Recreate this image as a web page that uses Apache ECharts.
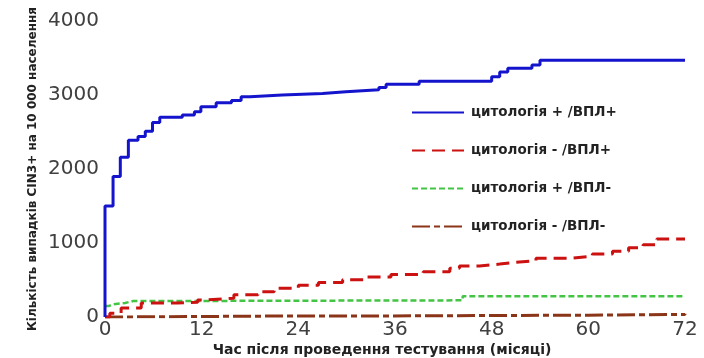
<!DOCTYPE html>
<html>
<head>
<meta charset="utf-8">
<script src="https://cdn.jsdelivr.net/npm/echarts@6/dist/echarts.min.js"></script>
<style>html,body{margin:0;padding:0;background:#fff;}#c{width:704px;height:358px;}</style>
</head>
<body>
<div id="c"></div>
<script>
var seriesNames = ['цитологія + /ВПЛ+', 'цитологія - /ВПЛ+', 'цитологія + /ВПЛ-', 'цитологія - /ВПЛ-'];
var xTicks = [0, 12, 24, 36, 48, 60, 72];
var yTicks = [0, 1000, 2000, 3000, 4000];
var xAxisName = 'Час після проведення тестування (місяці)';
var yAxisName = 'Кількість випадків CIN3+ на 10 000 населення';

// [month, cases] — value becomes this at that month (step)
var cytoPosHpvPos = [[0,0],[0,1500],[1.0,1900],[1.9,2160],[2.9,2390],[4.1,2440],[5.0,2510],[5.9,2630],[6.8,2700],[9.6,2730],[11.1,2775],[11.9,2840],[13.8,2895],[15.7,2925],[16.9,2975],[18,3000],[22,3020],[27,3045],[29.9,3070],[34,3100],[34.9,3145],[39,3185],[48,3245],[49,3310],[50,3360],[53,3405],[54,3470],[72,3470]];
var cytoNegHpvPos = [[0,0],[0.6,50],[2.0,120],[4.5,190],[9,200],[11.5,230],[12.5,255],[16,300],[19,340],[21,390],[24,430],[26.5,465],[29.5,505],[32.5,540],[35.5,575],[39.5,610],[42.8,660],[44,690],[46.5,715],[49,740],[51,760],[53.5,795],[58,820],[60.5,850],[63,890],[65,935],[66.8,975],[68.5,1055],[72,1055]];
var cytoPosHpvNeg = [[0,150],[0.5,170],[1,190],[2.5,215],[3.5,225],[44,225],[44.4,280],[72,280]];
var cytoNegHpvNeg = [[0,0],[1,12],[20,16],[40,25],[60,35],[72,45]];

var colors = ['#1414cc', '#cc1111', '#44c444', '#8b3518'];

var chart = echarts.init(document.getElementById('c'), null, {renderer: 'canvas'});
function mk(name, data, color, width, dash) {
  return {
    name: name, type: 'line', data: data, step: 'end', symbol: 'none',
    showSymbol: false, animation: false,
    lineStyle: {color: color, width: width, type: dash, cap: 'butt'},
    itemStyle: {color: color}
  };
}
chart.setOption({
  animation: false,
  grid: {left: 105, right: 19, top: 21, bottom: 41, containLabel: false, outerBoundsMode: 'none'},
  legend: {
    orient: 'vertical', left: 406, top: 100.5, itemWidth: 52, itemHeight: 14, itemGap: 24,
    data: seriesNames,
    itemStyle: {color: 'rgba(0,0,0,0)', borderColor: 'rgba(0,0,0,0)', borderWidth: 0, opacity: 0},
    textStyle: {fontFamily: 'DejaVu Sans', fontWeight: 'bold', fontSize: 13.5, color: '#222', padding: [0,0,0,2]}
  },
  xAxis: {
    type: 'value', min: xTicks[0], max: xTicks[xTicks.length-1], interval: 12,
    axisLine: {show: false}, axisTick: {show: false}, splitLine: {show: false},
    axisLabel: {fontFamily: 'DejaVu Sans', fontSize: 20, color: '#404040', margin: 3,
      alignMinLabel: 'center', alignMaxLabel: 'center'},
    name: xAxisName, nameLocation: 'middle', nameGap: 26, nameMoveOverlap: false,
    nameTextStyle: {fontFamily: 'DejaVu Sans', fontWeight: 'bold', fontSize: 14, color: '#222', padding: [0, 26, 0, 0]}
  },
  yAxis: {
    type: 'value', min: yTicks[0], max: yTicks[yTicks.length-1], interval: 1000,
    axisLine: {show: false}, axisTick: {show: false}, splitLine: {show: false},
    axisLabel: {fontFamily: 'DejaVu Sans', fontSize: 20, color: '#404040', margin: 6,
      verticalAlignMinLabel: 'middle', verticalAlignMaxLabel: 'middle',
      formatter: function (v) { return String(v); }},
    name: yAxisName, nameLocation: 'middle', nameGap: 66, nameRotate: 90, nameMoveOverlap: false,
    nameTextStyle: {fontFamily: 'DejaVu Sans', fontWeight: 'bold', fontSize: 12, color: '#222'}
  },
  series: [
    mk(seriesNames[3], cytoNegHpvNeg, colors[3], 3, [18,4,6,4]),
    mk(seriesNames[2], cytoPosHpvNeg, colors[2], 2.5, [6,3]),
    mk(seriesNames[1], cytoNegHpvPos, colors[1], 3, [13,7]),
    mk(seriesNames[0], cytoPosHpvPos, colors[0], 3, 'solid')
  ]
});
</script>
</body>
</html>
